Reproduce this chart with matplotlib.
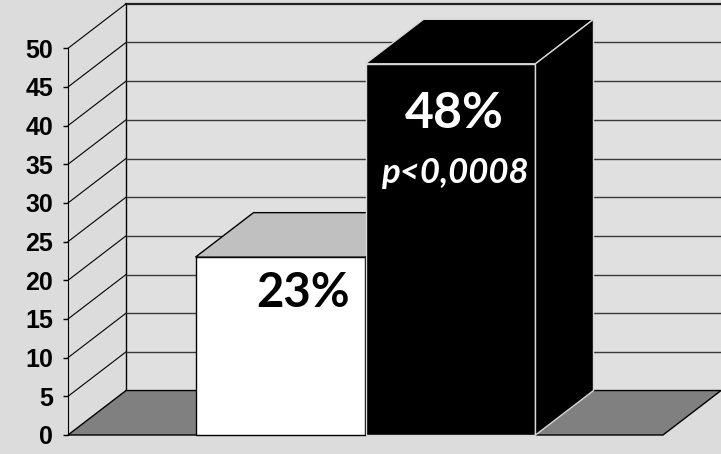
import matplotlib.pyplot as plt
from matplotlib.patches import Polygon

# data
values = [23, 48]
value_labels = ['23%', '48%']
p_label = 'p<0,0008'
yticks = [0, 5, 10, 15, 20, 25, 30, 35, 40, 45, 50]

face_cols = ['white', 'black']
top_cols = ['#c0c0c0', 'black']
edge_cols = ['black', '#d8d8d8']

bg = '#dcdcdc'
bar_w = 0.2857
x0 = 0.5 - bar_w      # first bar left edge, bars touch in the middle
dx, dy = 0.0975, 5.75  # depth offset (x units, y units)

fig = plt.figure(figsize=(7.21, 4.54), dpi=100, facecolor=bg)
ax = fig.add_axes([68 / 721, 19 / 454, 595 / 721, 386.7 / 454])
ax.set_xlim(0, 1)
ax.set_ylim(0, 50)
ax.patch.set_visible(False)


def poly(pts, fc, ec='black', lw=1, z=1):
    ax.add_patch(Polygon(pts, closed=True, facecolor=fc, edgecolor=ec,
                         linewidth=lw, zorder=z, clip_on=False))


# back wall
poly([(dx, dy), (1.2, dy), (1.2, 50 + dy), (dx, 50 + dy)], '#e0e0e0', 'none', z=0)
ax.plot([dx, dx], [dy, 50 + dy], color='black', lw=1, zorder=1, clip_on=False)
ax.plot([dx, 1.2], [50 + dy, 50 + dy], color='#202020', lw=1.6, zorder=1, clip_on=False)
for t in yticks[1:-1]:
    ax.plot([dx, 1.2], [t + dy, t + dy], color='#383838', lw=1, zorder=1, clip_on=False)
# side wall diagonals
for t in yticks[1:]:
    ax.plot([0, dx], [t, t + dy], color='black', lw=0.8, zorder=1, clip_on=False)

# floor
poly([(0, 0), (1, 0), (1 + dx, dy), (dx, dy)], '#808080', 'black', lw=1, z=2)

# bars
for i, v in enumerate(values):
    l = x0 + i * bar_w
    r = l + bar_w
    z = 3 + i
    poly([(l, 0), (r, 0), (r, v), (l, v)], face_cols[i], edge_cols[i], z=z)
    poly([(l, v), (r, v), (r + dx, v + dy), (l + dx, v + dy)], top_cols[i], edge_cols[i], z=z)
    poly([(r, 0), (r + dx, dy), (r + dx, v + dy), (r, v)], face_cols[i], edge_cols[i], z=z)

# labels on bars
ax.text(0.395, 16.5, value_labels[0], ha='center', va='baseline', fontsize=34,
        fontweight='bold', family='Lato', color='black', zorder=10)
ax.text(0.65, 39.7, value_labels[1], ha='center', va='baseline', fontsize=36,
        fontweight='bold', family='Lato', color='white', zorder=10)
ax.text(0.65, 32.6, p_label, ha='center', va='baseline', fontsize=25,
        fontweight='bold', style='italic', family='Lato', color='white', zorder=10)

# axis
for s in ['top', 'right', 'bottom']:
    ax.spines[s].set_visible(False)
ax.spines['left'].set_zorder(5)
ax.set_xticks([])
ax.set_yticks(yticks)
ax.tick_params(axis='y', length=3.6, width=1, pad=7, labelsize=18)
for lab in ax.get_yticklabels():
    lab.set_fontweight('bold')
    lab.set_family('Liberation Sans')

fig.savefig('out.png', dpi=100, facecolor=bg)
